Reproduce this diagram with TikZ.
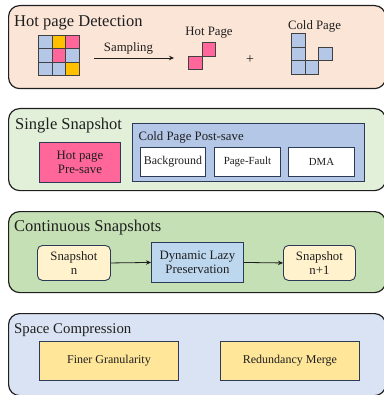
\documentclass[tikz,border=0pt]{standalone}
\usepackage{fontspec}
\setmainfont{Liberation Serif}
\usetikzlibrary{arrows.meta}
\definecolor{peach}{HTML}{FBE5D6}
\definecolor{palegreen}{HTML}{E2F0D9}
\definecolor{midgreen}{HTML}{C5E0B4}
\definecolor{paleblue}{HTML}{DAE3F3}
\definecolor{cellblue}{HTML}{B4C7E7}
\definecolor{cellgold}{HTML}{FFC000}
\definecolor{hotpink}{HTML}{FF6699}
\definecolor{cream}{HTML}{FFF2CC}
\definecolor{skyblue}{HTML}{BDD7EE}
\definecolor{sand}{HTML}{FFE699}
\definecolor{edgeblue}{HTML}{2C3A58}
\definecolor{ink}{HTML}{1F1F1F}
\tikzset{
  panel/.style={draw=ink, line width=1.2pt, rounded corners=11pt, anchor=north west, inner sep=0pt},
  paneltitle/.style={anchor=base west, inner sep=0pt, text=ink, font=\fontsize{16.5}{18}\selectfont},
  box/.style={draw=edgeblue, line width=0.9pt, anchor=north west, inner sep=0pt, align=center, text=ink},
  boxtext/.style={font=\fontsize{12.8}{14.6}\selectfont},
  cell/.style={draw=ink!85, line width=0.8pt, minimum size=13.5pt, inner sep=0pt, anchor=north west},
  label/.style={anchor=base, inner sep=0pt, text=ink, font=\fontsize{12.8}{14}\selectfont},
  flow/.style={-{Stealth[length=5pt,width=4.5pt]}, line width=0.8pt, draw=ink}
}
\begin{document}
\begin{tikzpicture}[x=1pt,y=-1pt]
\useasboundingbox (0,0) rectangle (383,395);

% ---- Hot page detection ----
\node[panel, fill=peach, minimum width=377pt, minimum height=83pt] (detect) at (8,5) {};
\node[paneltitle] (detect-title) at (14,27) {Hot page Detection};
% page grid
\node[cell, fill=cellblue] (g11) at (38,35) {};
\node[cell, fill=cellgold] (g12) at (51.5,35) {};
\node[cell, fill=hotpink]  (g13) at (65,35) {};
\node[cell, fill=cellblue] (g21) at (38,48.5) {};
\node[cell, fill=hotpink]  (g22) at (51.5,48.5) {};
\node[cell, fill=cellblue] (g23) at (65,48.5) {};
\node[cell, fill=cellblue] (g31) at (38,62) {};
\node[cell, fill=cellblue] (g32) at (51.5,62) {};
\node[cell, fill=cellgold] (g33) at (65,62) {};
% sampling arrow
\coordinate (samp-from) at (94,58);
\coordinate (samp-to) at (174,58);
\draw[flow] (samp-from) -- (samp-to);
\node[label] (samp-label) at (128.5,51.5) {Sampling};
% hot pages
\node[label] (hot-label) at (209,36) {Hot Page};
\node[cell, fill=hotpink] (h1) at (201.5,42.5) {};
\node[cell, fill=hotpink] (h2) at (188,56) {};
\node[label, font=\fontsize{14}{14}\selectfont] (plus) at (250,63.5) {+};
% cold pages
\node[label] (cold-label) at (314.5,29.5) {Cold Page};
\node[cell, fill=cellblue] (c1) at (291,33.5) {};
\node[cell, fill=cellblue] (c2) at (291,47) {};
\node[cell, fill=cellblue] (c3) at (291,60.5) {};
\node[cell, fill=cellblue] (c4) at (304.5,60.5) {};
\node[cell, fill=cellblue] (c5) at (318,47) {};

% ---- Single snapshot ----
\node[panel, fill=palegreen, minimum width=377pt, minimum height=82pt] (single) at (8,108) {};
\node[paneltitle] (single-title) at (15,129.3) {Single Snapshot};
\node[box, boxtext, fill=hotpink, minimum width=81pt, minimum height=40pt] (presave) at (39,142) {Hot page\\Pre-save};
\node[box, fill=cellblue, minimum width=232pt, minimum height=58pt] (postsave) at (132,123) {};
\node[label, anchor=base west] (postsave-title) at (138.3,140.7) {Cold Page Post-save};
\node[box, fill=white, minimum width=65pt, minimum height=29pt, font=\fontsize{11.9}{13}\selectfont] (bg) at (140,147) {Background};
\node[box, fill=white, minimum width=66pt, minimum height=29pt, font=\fontsize{10.9}{12}\selectfont] (pf) at (214,147) {Page-Fault};
\node[box, fill=white, minimum width=66pt, minimum height=29pt, font=\fontsize{10.8}{12}\selectfont] (dma) at (288,147) {DMA};

% ---- Continuous snapshots ----
\node[panel, fill=midgreen, minimum width=377pt, minimum height=81pt] (cont) at (8,211) {};
\node[paneltitle] (cont-title) at (14,231.7) {Continuous Snapshots};
\node[box, boxtext, fill=cream, rounded corners=5pt, minimum width=73pt, minimum height=35pt] (snapn) at (37,245) {Snapshot\\n};
\node[box, boxtext, fill=skyblue, minimum width=92pt, minimum height=40pt] (lazy) at (151,242) {Dynamic Lazy\\Preservation};
\node[box, boxtext, fill=cream, rounded corners=5pt, minimum width=72pt, minimum height=35pt] (snapn1) at (283,245) {Snapshot\\n+1};
\draw[flow] (snapn.east) -- (lazy.west);
\draw[flow] (lazy.east) -- (snapn1.west);

% ---- Space compression ----
\node[panel, fill=paleblue, minimum width=377pt, minimum height=82pt] (space) at (8,313) {};
\node[paneltitle, font=\fontsize{14.8}{16}\selectfont] (space-title) at (14,333.3) {Space Compression};
\node[box, fill=sand, minimum width=139pt, minimum height=39pt, font=\fontsize{12}{14}\selectfont] (finer) at (39,341) {Finer Granularity};
\node[box, fill=sand, minimum width=139pt, minimum height=39pt, font=\fontsize{12}{14}\selectfont] (merge) at (220,341) {Redundancy Merge};
\end{tikzpicture}
\end{document}
